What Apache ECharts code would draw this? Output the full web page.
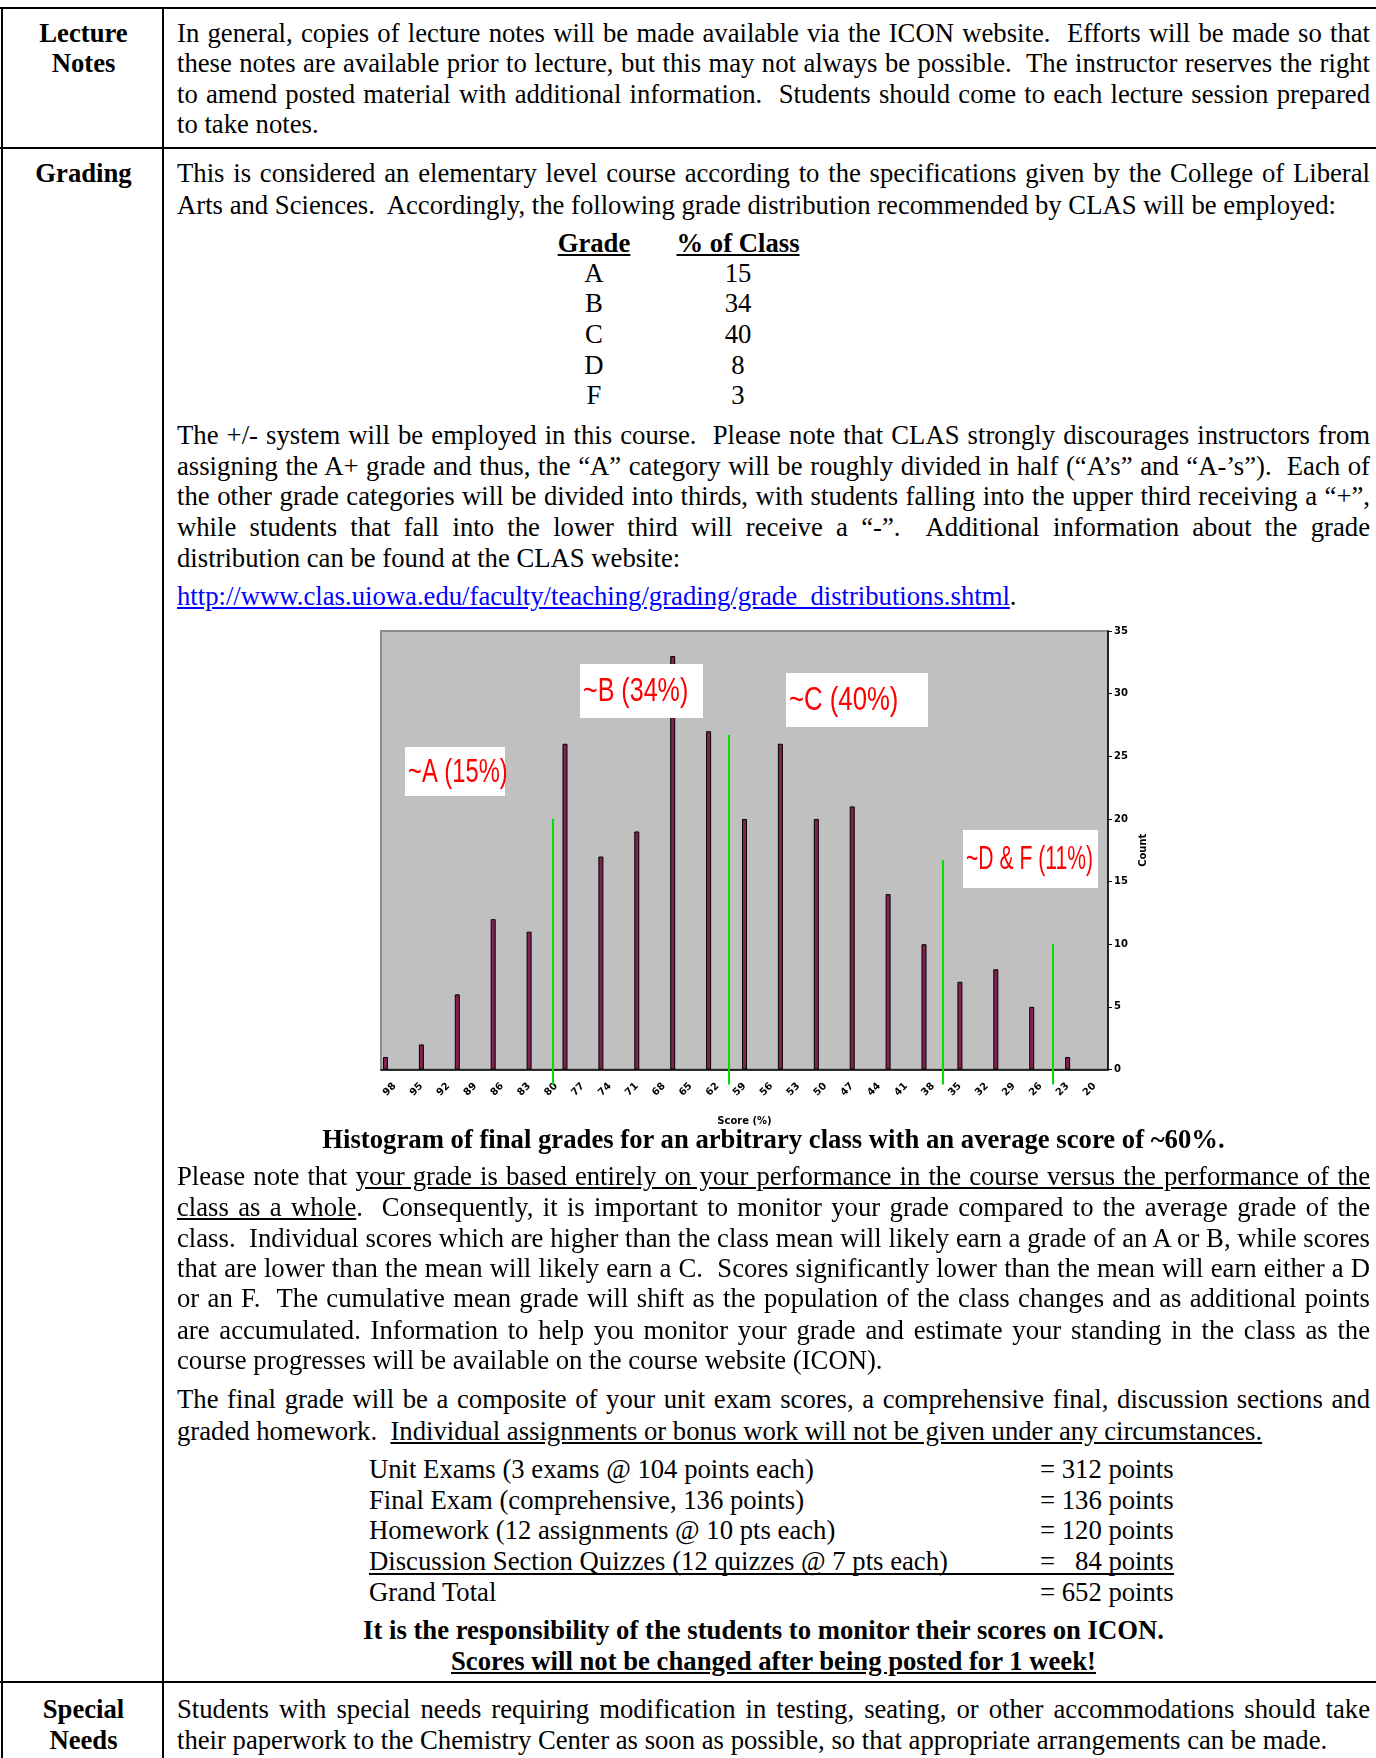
<!DOCTYPE html>
<html>
<head>
<meta charset="utf-8">
<script src="https://cdn.jsdelivr.net/npm/echarts@6/dist/echarts.min.js"></script>
<style>
  html, body { margin: 0; padding: 0; background: #fff; }
  body { width: 1376px; height: 1758px; overflow: hidden; position: relative; font-family: "Liberation Serif", "Times New Roman", serif; font-size: 26.7px; color: #000; }
  .ln { position: absolute; left: 177px; width: 1193px; line-height: 30.6px; white-space: nowrap; }
  .j { text-align: justify; text-align-last: justify; white-space: normal; }
  .hd { position: absolute; left: 3px; width: 161px; text-align: center; font-weight: bold; line-height: 30.6px; }
  .u { text-decoration: underline; }
  .b { font-weight: bold; }
  .hl { position: absolute; left: 0; width: 1376px; height: 2px; background: #000; }
  .vl { position: absolute; top: 8px; width: 2px; height: 1750px; background: #000; }
  .gc { position: absolute; width: 200px; text-align: center; line-height: 30.6px; }
  .pt { position: absolute; line-height: 30.6px; white-space: pre; }
  #chart { position: absolute; left: 372px; top: 620px; width: 790px; height: 515px; }
</style>
</head>
<body>
<div class="hl" style="top:7px"></div>
<div class="hl" style="top:147px"></div>
<div class="hl" style="top:1681px"></div>
<div class="vl" style="left:1px"></div>
<div class="vl" style="left:162px"></div>

<div class="hd" style="top:18px">Lecture</div>
<div class="hd" style="top:48.4px">Notes</div>
<div class="ln j" style="top:18px">In general, copies of lecture notes will be made available via the ICON website.&nbsp; Efforts will be made so that</div>
<div class="ln j" style="top:48.4px">these notes are available prior to lecture, but this may not always be possible.&nbsp; The instructor reserves the right</div>
<div class="ln j" style="top:78.7px">to amend posted material with additional information.&nbsp; Students should come to each lecture session prepared</div>
<div class="ln" style="top:109px">to take notes.</div>

<div class="hd" style="top:158.3px">Grading</div>
<div class="ln j" style="top:158.3px">This is considered an elementary level course according to the specifications given by the College of Liberal</div>
<div class="ln" style="top:189.7px">Arts and Sciences.&nbsp; Accordingly, the following grade distribution recommended by CLAS will be employed:</div>

<div class="gc b u" style="left:494px;top:227.8px">Grade</div>
<div class="gc b u" style="left:638px;top:227.8px">% of Class</div>
<div class="gc" style="left:494px;top:258.1px">A</div><div class="gc" style="left:638px;top:258.1px">15</div>
<div class="gc" style="left:494px;top:288.4px">B</div><div class="gc" style="left:638px;top:288.4px">34</div>
<div class="gc" style="left:494px;top:318.7px">C</div><div class="gc" style="left:638px;top:318.7px">40</div>
<div class="gc" style="left:494px;top:350.1px">D</div><div class="gc" style="left:638px;top:350.1px">8</div>
<div class="gc" style="left:494px;top:380.4px">F</div><div class="gc" style="left:638px;top:380.4px">3</div>

<div class="ln j" style="top:419.6px">The +/- system will be employed in this course.&nbsp; Please note that CLAS strongly discourages instructors from</div>
<div class="ln j" style="top:451px">assigning the A+ grade and thus, the “A” category will be roughly divided in half (“A’s” and “A-’s”).&nbsp; Each of</div>
<div class="ln j" style="top:481.3px">the other grade categories will be divided into thirds, with students falling into the upper third receiving a “+”,</div>
<div class="ln j" style="top:511.6px">while students that fall into the lower third will receive a “-”.&nbsp; Additional information about the grade</div>
<div class="ln" style="top:543px">distribution can be found at the CLAS website:</div>
<div class="ln" style="top:581.1px"><span class="u" style="color:#0000ff">http://www.clas.uiowa.edu/faculty/teaching/grading/grade_distributions.shtml</span>.</div>

<div id="chart"></div>

<div class="ln b" style="top:1124px;text-align:center">Histogram of final grades for an arbitrary class with an average score of ~60%.</div>

<div class="ln j" style="top:1161px">Please note that <span class="u">your grade is based entirely on your performance in the course versus the performance of the</span></div>
<div class="ln j" style="top:1192.3px"><span class="u">class as a whole</span>.&nbsp; Consequently, it is important to monitor your grade compared to the average grade of the</div>
<div class="ln j" style="top:1222.6px">class.&nbsp; Individual scores which are higher than the class mean will likely earn a grade of an A or B, while scores</div>
<div class="ln j" style="top:1253px">that are lower than the mean will likely earn a C.&nbsp; Scores significantly lower than the mean will earn either a D</div>
<div class="ln j" style="top:1283.2px">or an F.&nbsp; The cumulative mean grade will shift as the population of the class changes and as additional points</div>
<div class="ln j" style="top:1314.5px">are accumulated. Information to help you monitor your grade and estimate your standing in the class as the</div>
<div class="ln" style="top:1344.8px">course progresses will be available on the course website (ICON).</div>

<div class="ln j" style="top:1384px">The final grade will be a composite of your unit exam scores, a comprehensive final, discussion sections and</div>
<div class="ln" style="top:1415.5px">graded homework.&nbsp; <span class="u">Individual assignments or bonus work will not be given under any circumstances.</span></div>

<div class="pt" style="left:369px;top:1453.5px">Unit Exams (3 exams @ 104 points each)</div><div class="pt" style="left:1040px;top:1453.5px">= 312 points</div>
<div class="pt" style="left:369px;top:1485px">Final Exam (comprehensive, 136 points)</div><div class="pt" style="left:1040px;top:1485px">= 136 points</div>
<div class="pt" style="left:369px;top:1515.2px">Homework (12 assignments @ 10 pts each)</div><div class="pt" style="left:1040px;top:1515.2px">= 120 points</div>
<div class="pt" style="left:369px;top:1545.5px">Discussion Section Quizzes (12 quizzes @ 7 pts each)</div><div class="pt" style="left:1040px;top:1545.5px">=   84 points</div>
<div style="position:absolute;left:369px;top:1573px;width:805px;height:1.5px;background:#000"></div>
<div class="pt" style="left:369px;top:1577px">Grand Total</div><div class="pt" style="left:1040px;top:1577px">= 652 points</div>

<div class="ln b" style="top:1615px;width:1173px;text-align:center">It is the responsibility of the students to monitor their scores on ICON.</div>
<div class="ln b" style="top:1646.4px;text-align:center"><span class="u">Scores will not be changed after being posted for 1 week!</span></div>

<div class="hd" style="top:1693.5px">Special</div>
<div class="hd" style="top:1725px">Needs</div>
<div class="ln j" style="top:1693.5px">Students with special needs requiring modification in testing, seating, or other accommodations should take</div>
<div class="ln" style="top:1725px">their paperwork to the Chemistry Center as soon as possible, so that appropriate arrangements can be made.</div>

<script>
// score axis, one category per percent, high to low
var scoreCats = [];
for (var s = 99; s >= 19; s--) scoreCats.push(String(s));

// histogram bins (score %) and how many students landed there
var binScores = [99, 95, 91, 87, 83, 79, 75, 71, 67, 63, 59, 55, 51, 47, 43, 39, 35, 31, 27, 23];
var binCounts = [1, 2, 6, 12, 11, 26, 17, 19, 33, 27, 20, 26, 20, 21, 14, 10, 7, 8, 5, 1];

// green cut-off lines between grade bands
var cutScores = [80.4, 60.7, 36.9, 24.7];
var cutHeights = [20, 26.7, 16.7, 10];
var cutBase = -1.2;

var bandLabels = ['~A (15%)', '~B (34%)', '~C (40%)', '~D & F (11%)'];
var countTicks = [0, 35, 5]; // min, max, step

var barData = scoreCats.map(function (c) {
  var k = binScores.indexOf(Number(c));
  return k >= 0 ? binCounts[k] : '-';
});

var cutLines = cutScores.map(function (x, i) {
  return { coords: [[x, cutBase], [x, cutHeights[i]]] };
});

// label boxes, pixel spots inside the chart (sx = squeeze of the text)
var boxes = [
  { x: 33, y: 127, w: 100, h: 49, sx: 0.72 },
  { x: 208, y: 44, w: 123, h: 54, sx: 0.76 },
  { x: 414, y: 53, w: 142, h: 54, sx: 0.78 },
  { x: 591, y: 210, w: 135, h: 58, sx: 0.64 }
];
var graphics = [];
boxes.forEach(function (b, i) {
  graphics.push({
    type: 'rect', left: b.x, top: b.y, z: 100,
    shape: { width: b.w, height: b.h },
    style: { fill: '#fff' }
  });
  graphics.push({
    type: 'text', x: b.x + 3, y: b.y + b.h / 2 + 1, z: 101, scaleX: b.sx,
    style: { text: bandLabels[i], font: '33px "Liberation Sans"', fill: '#ff0000', textAlign: 'left', textVerticalAlign: 'middle' }
  });
});

var chart = echarts.init(document.getElementById('chart'));
chart.setOption({
  animation: false,
  grid: {
    left: 9, top: 11, right: 54, bottom: 65.5,
    outerBoundsMode: 'none',
    show: true, backgroundColor: '#c0c0c0', borderColor: '#8c8c8c', borderWidth: 2
  },
  xAxis: [
    {
      type: 'category',
      data: scoreCats,
      name: 'Score (%)',
      nameLocation: 'middle',
      nameGap: 47,
      nameTextStyle: { fontSize: 10, fontWeight: 'bold', fontFamily: 'DejaVu Sans', color: '#000' },
      axisLine: { lineStyle: { color: '#000', width: 1.5 } },
      axisTick: { alignWithLabel: true, interval: 0, length: 4, lineStyle: { color: '#000' } },
      axisLabel: {
        interval: function (idx) { return idx % 3 === 1; },
        rotate: 45, fontSize: 10, fontWeight: 'bold', fontFamily: 'DejaVu Sans', color: '#000', margin: 15
      },
      splitLine: { show: false }
    },
    {
      type: 'value', inverse: true, min: 18.5, max: 99.5, show: false
    },
    {
      type: 'category', data: scoreCats, position: 'bottom',
      axisLine: { show: false },
      axisTick: { alignWithLabel: true, interval: 0, inside: true, length: 4, lineStyle: { color: '#000' } },
      axisLabel: { show: false }
    }
  ],
  yAxis: {
    type: 'value',
    position: 'right',
    min: countTicks[0], max: countTicks[1], interval: countTicks[2],
    name: 'Count',
    nameLocation: 'middle',
    nameRotate: 90,
    nameGap: 30,
    nameTextStyle: { fontSize: 10, fontWeight: 'bold', fontFamily: 'DejaVu Sans', color: '#000' },
    axisLine: { show: true, lineStyle: { color: '#000', width: 1.5 } },
    axisTick: { show: true, length: 4, lineStyle: { color: '#000' } },
    axisLabel: { fontSize: 10, fontWeight: 'bold', fontFamily: 'DejaVu Sans', color: '#000', margin: 6 },
    splitLine: { show: false }
  },
  series: [
    {
      type: 'bar',
      data: barData,
      barWidth: 5,
      itemStyle: { color: '#842052', borderColor: '#000', borderWidth: 1 }
    },
    {
      type: 'lines',
      coordinateSystem: 'cartesian2d',
      xAxisIndex: 1,
      yAxisIndex: 0,
      clip: false,
      z: 5,
      data: cutLines,
      lineStyle: { color: '#00e000', width: 2, opacity: 1 }
    }
  ],
  graphic: graphics
});
</script>
</body>
</html>
